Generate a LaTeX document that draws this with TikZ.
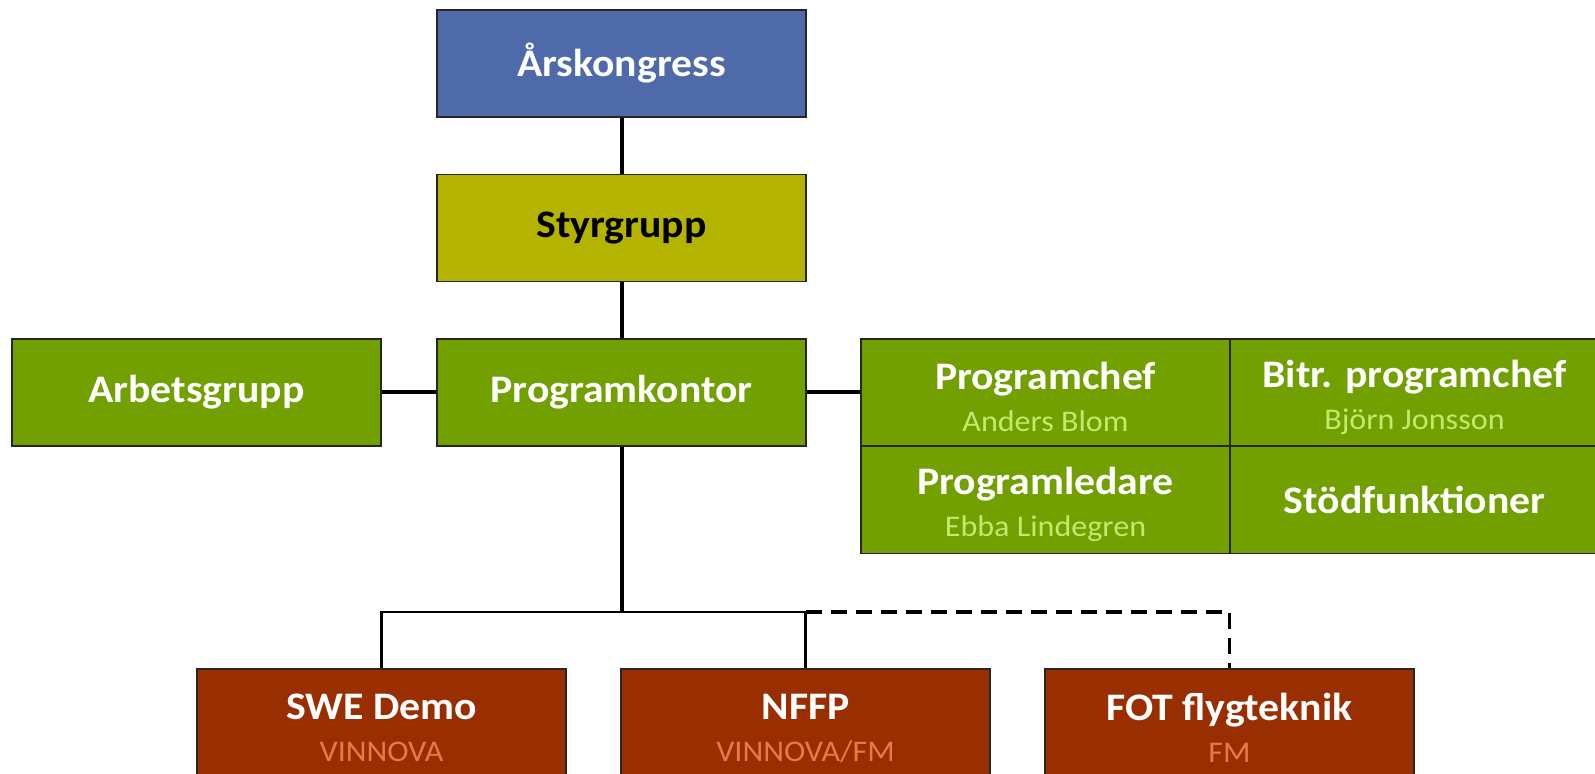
\documentclass[tikz,border=0pt]{standalone}
\usepackage{fontspec}
\setmainfont{Carlito}[FakeStretch=1.07]
\usepackage{tikz}
\usetikzlibrary{positioning,calc}

\definecolor{kongressblue}{RGB}{79,106,168}
\definecolor{styrolive}{RGB}{179,179,0}
\definecolor{kontorgreen}{RGB}{113,160,0}
\definecolor{namegreen}{RGB}{197,232,110}
\definecolor{projbrown}{RGB}{153,46,0}
\definecolor{fundorange}{RGB}{230,122,72}

\newcommand{\boxtitle}{\fontsize{19.5pt}{21pt}\selectfont\bfseries}
\newcommand{\boxsub}[2]{\rule{0pt}{18.5pt}\\{\fontsize{15pt}{21pt}\selectfont\mdseries\color{#1}#2}}

\begin{document}
\begin{tikzpicture}[x=0.5pt,y=-0.5pt,
  orgbox/.style={draw=black!85,line width=0.75pt,minimum width=184.5pt,minimum height=53.5pt,
    inner sep=0pt,align=center,text=white,font=\boxtitle},
  link/.style={line width=2pt},
  buslink/.style={line width=1.4pt},
  dashlink/.style={line width=1.6pt,dash pattern=on 8pt off 4.5pt}]
\useasboundingbox (0,0) rectangle (1595,774);
\clip (0,0) rectangle (1595,774);

% Top chain
\node[orgbox,fill=kongressblue] (kongress) at (621.5,63.5) {Årskongress};
\node[orgbox,fill=styrolive,text=black] (styr) at (621.5,228) {Styrgrupp};
\node[orgbox,fill=kontorgreen] (kontor) at (621.5,392.5) {Programkontor};
\node[orgbox,fill=kontorgreen] (arbets) at (196.5,392.5) {Arbetsgrupp};

% Office grid
\node[orgbox,fill=kontorgreen] (chef) at (1045.5,392.5) {Programchef\boxsub{namegreen}{Anders Blom}};
\node[orgbox,fill=kontorgreen] (bitr) at (1414.5,392.5) {Bitr. programchef\boxsub{namegreen}{Björn Jonsson}};
\node[orgbox,fill=kontorgreen] (ledare) at (1045.5,500) {Programledare\boxsub{namegreen}{Ebba Lindegren}};
\node[orgbox,fill=kontorgreen] (stod) at (1414.5,500) {Stödfunktioner};

% Projects
\node[orgbox,fill=projbrown] (swe) at (381.5,722.5) {SWE Demo\boxsub{fundorange}{VINNOVA}};
\node[orgbox,fill=projbrown] (nffp) at (805.5,722.5) {NFFP\boxsub{fundorange}{VINNOVA/FM}};
\node[orgbox,fill=projbrown] (fot) at (1229.5,722.5) {FOT flygteknik\boxsub{fundorange}{FM}};

% Connectors
\coordinate (bus) at (621.5,612);
\draw[link] (kongress.south) -- (styr.north);
\draw[link] (styr.south) -- (kontor.north);
\draw[link] (arbets.east) -- (kontor.west);
\draw[link] (kontor.east) -- (chef.west);
\draw[link] (kontor.south) -- (bus);
\draw[buslink] (swe.north) |- (bus) -| (nffp.north);
\draw[dashlink] (nffp.north |- bus) -| (fot.north);
\end{tikzpicture}
\end{document}
